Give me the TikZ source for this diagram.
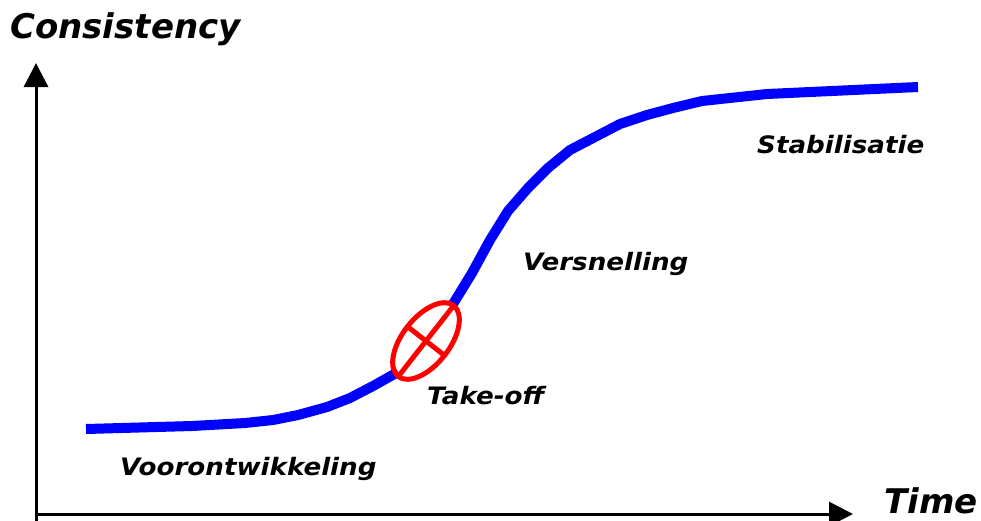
\documentclass[tikz,border=0pt]{standalone}
\usepackage{fontspec}
\setmainfont{DejaVu Sans}
\usetikzlibrary{arrows.meta}
\tikzset{
  axis/.style={line width=3pt,-{Triangle[width=24pt,length=24pt]}},
  phase/.style={line width=10pt,blue,line join=round},
  lbl/.style={anchor=base west,inner sep=0pt,xscale=1.09,transform shape,font=\fontsize{24}{28}\selectfont\bfseries\itshape},
  biglbl/.style={anchor=base west,inner sep=0pt,font=\fontsize{34}{40}\selectfont\bfseries\itshape},
  redmark/.style={red,line width=5pt}
}
\begin{document}
\begin{tikzpicture}[x=1pt,y=-1pt]
\useasboundingbox (0,0) rectangle (981,520);
% axes
\coordinate (ytip) at (36,63);
\coordinate (xtip) at (853,514);
\coordinate (ybot) at (36,522);
\coordinate (xleft) at (34.5,514);
\draw[axis] (ybot) -- (ytip);
\draw[axis] (xleft) -- (xtip);
% curve
\draw[phase] (86,429) -- (192,426) -- (245,423) -- (273,420) -- (298,415) -- (327,407) -- (350,398) -- (373,386) -- (398,372);
\draw[phase] (453,304) -- (472,273) -- (490,240) -- (508,211) -- (528,188) -- (548,168) -- (570,150) -- (595,137) -- (620,124) -- (647,115) -- (673,108) -- (702,101) -- (767,94) -- (918,87);
% take-off mark
\begin{scope}[shift={(426,341)},rotate=52]
\draw[redmark] (0,0) ellipse [x radius=45pt, y radius=23.5pt];
\draw[redmark] (-45,0) -- (45,0);
\draw[redmark] (0,-23.5) -- (0,23.5);
\end{scope}
% labels
\node[biglbl] (cons) at (10,38) {Consistency};
\node[biglbl] (time) at (884,513) {Time};
\node[lbl] (stab) at (757,153) {Stabilisatie};
\node[lbl] (vers) at (523,270) {Versnelling};
\node[lbl] (take) at (427,404) {Take-off};
\node[lbl] (voor) at (120,475) {Voorontwikkeling};
\end{tikzpicture}
\end{document}
